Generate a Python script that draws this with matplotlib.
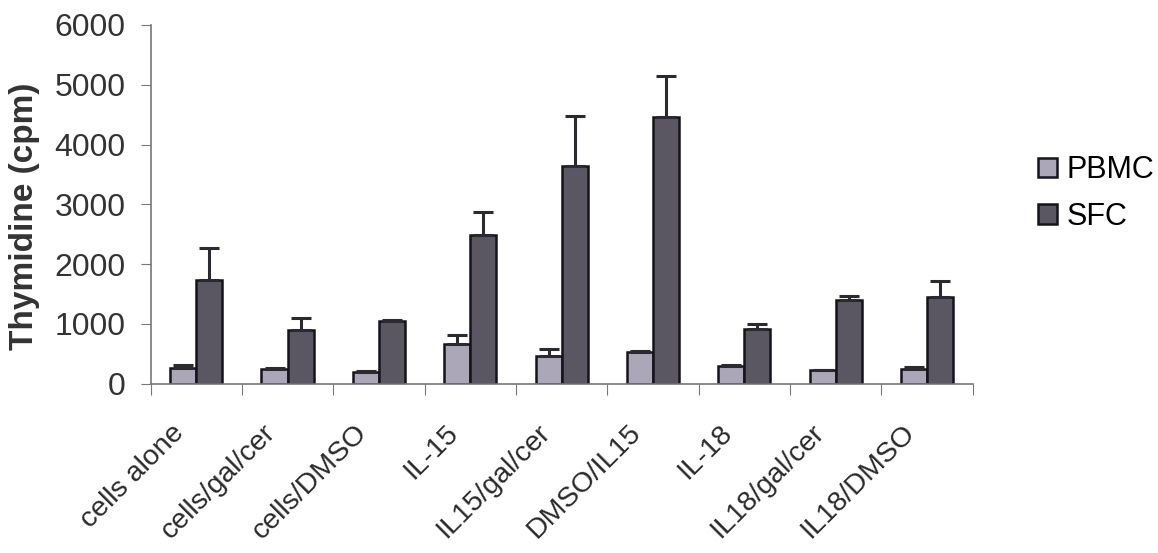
import numpy as np
import matplotlib.pyplot as plt
from matplotlib.transforms import ScaledTranslation, blended_transform_factory

plt.rcParams["font.family"] = ["Liberation Sans", "DejaVu Sans"]

# === Données ===
categories = ["cells alone", "cells/gal/cer", "cells/DMSO", "IL-15", "IL15/gal/cer",
              "DMSO/IL15", "IL-18", "IL18/gal/cer", "IL18/DMSO"]
pbmc = [270, 240, 200, 670, 460, 525, 300, 225, 255]
pbmc_err = [45, 20, 10, 145, 120, 25, 15, 10, 20]
sfc = [1740, 900, 1055, 2490, 3645, 4460, 915, 1395, 1450]
sfc_err = [530, 200, 10, 380, 830, 690, 90, 80, 260]

# === Graphique ===
fig = plt.figure(figsize=(11.58, 5.53), dpi=100)
ax = fig.add_axes([0.130, 0.306, 0.710, 0.649])

x = np.arange(len(categories))
w = 1 / 3.5
ekw = dict(ecolor="#2a2a30", elinewidth=2.2, capsize=7, capthick=2.2)
ax.bar(x - w / 2, pbmc, w, yerr=[np.zeros(len(pbmc)), pbmc_err], color="#aba7b9",
       edgecolor="#15131c", linewidth=1.8, error_kw=ekw, label="PBMC")
ax.bar(x + w / 2, sfc, w, yerr=[np.zeros(len(sfc)), sfc_err], color="#5a5662",
       edgecolor="#15131c", linewidth=1.8, error_kw=ekw, label="SFC")

ax.set_xlim(-0.5, len(categories) - 0.5)
ax.set_ylim(0, 6000)
ax.set_yticks(range(0, 6001, 1000))
ax.set_xticks(np.arange(-0.5, len(categories), 1))
ax.set_xticklabels([])
ax.tick_params(axis="x", length=8, color="#777777")
ax.tick_params(axis="y", length=7, color="#777777", labelsize=23, labelcolor="#333333", pad=11)

# étiquettes inclinées façon Excel
trans = blended_transform_factory(ax.transData, ax.transAxes) + \
    ScaledTranslation(-0.25, -0.36, fig.dpi_scale_trans)
for xi, cat in zip(x, categories):
    ax.text(xi, 0, cat, transform=trans, rotation=45, ha="right", va="top",
            rotation_mode="anchor", fontsize=20.5, color="#2a2a2a")

for s in ["top", "right"]:
    ax.spines[s].set_visible(False)
for s in ["left", "bottom"]:
    ax.spines[s].set_color("#777777")
    ax.spines[s].set_linewidth(1.2)

ax.set_ylabel("Thymidine (cpm)", fontsize=24, fontweight="bold", color="#333333")
ax.yaxis.set_label_coords(-0.134, 0.468)

ax.legend(loc="center left", bbox_to_anchor=(1.080, 0.53), frameon=False, fontsize=22,
          handlelength=0.62, handleheight=0.62, handletextpad=0.3, labelspacing=0.55,
          borderpad=0, borderaxespad=0)

plt.savefig("out.png", dpi=100)
plt.close()
